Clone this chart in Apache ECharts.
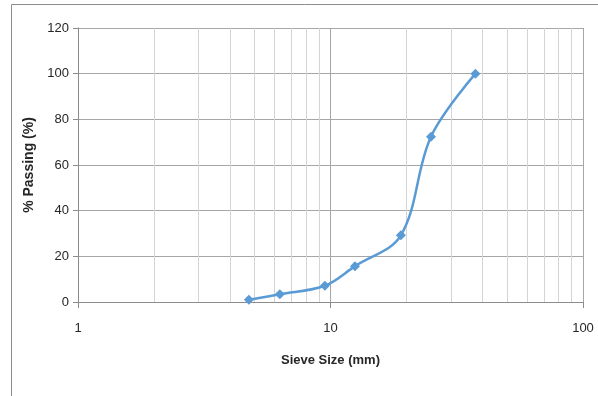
<!DOCTYPE html>
<html><head><meta charset="utf-8">
<script src="https://cdn.jsdelivr.net/npm/echarts@6/dist/echarts.min.js"></script>
<style>html,body{margin:0;padding:0;background:#fff}#c{width:598px;height:396px}</style>
</head><body><div id="c"></div>
<script>
const sieveSizes = [4.75, 6.3, 9.5, 12.5, 19, 25, 37.5];
const passing = [1, 3.4, 7.1, 15.7, 29.2, 72.4, 100];
const minorGridValues = [2, 3, 4, 5, 6, 7, 8, 9, 20, 30, 40, 50, 60, 70, 80, 90];
const xTitle = 'Sieve Size (mm)';
const yTitle = '% Passing (%)';

const chart = echarts.init(document.getElementById('c'));
const font = 'Liberation Sans Narrow, Liberation Sans, sans-serif';
chart.setOption({
  animation: false,
  graphic: [{
    type: 'polyline', silent: true,
    shape: { points: [[11.5, 396], [11.5, 4.5], [598, 4.5]] },
    style: { stroke: '#8c8c8c', lineWidth: 1, fill: null }
  }],
  grid: { left: 78, right: 15, top: 28, bottom: 94 },
  xAxis: {
    type: 'log', logBase: 10, min: 1, max: 100,
    name: xTitle, nameLocation: 'middle', nameGap: 52,
    nameTextStyle: { fontFamily: font, fontWeight: 'bold', fontSize: 13, color: '#262626' },
    axisLine: { lineStyle: { color: '#8c8c8c' } },
    axisTick: { show: true, length: 6, lineStyle: { color: '#8c8c8c' } },
    axisLabel: { fontFamily: font, fontSize: 13, color: '#262626', margin: 20 },
    splitLine: { show: true, lineStyle: { color: '#a6a6a6', width: 1 } },
    minorTick: { show: false }, minorSplitLine: { show: false }
  },
  yAxis: {
    type: 'value', min: 0, max: 120, interval: 20,
    name: yTitle, nameLocation: 'middle', nameGap: 39, nameRotate: 90,
    nameTextStyle: { fontFamily: font, fontWeight: 'bold', fontSize: 14, color: '#262626' },
    axisLine: { show: true, lineStyle: { color: '#8c8c8c' } },
    axisTick: { show: true, length: 5, lineStyle: { color: '#8c8c8c' } },
    axisLabel: { fontFamily: font, fontSize: 13, color: '#262626', margin: 9 },
    splitLine: { show: true, lineStyle: { color: '#a6a6a6', width: 1 } }
  },
  series: [{
    type: 'line',
    data: sieveSizes.map((s, i) => [s, passing[i]]),
    smooth: 0.35,
    symbol: 'diamond', symbolSize: 10,
    itemStyle: { color: '#5b9bd5' },
    lineStyle: { color: '#5b9bd5', width: 2.5 },
    z: 5,
    markLine: {
      silent: true, symbol: 'none', animation: false,
      label: { show: false },
      lineStyle: { color: '#d4d4d4', width: 1, type: 'solid' },
      data: minorGridValues.map(v => ({ xAxis: v }))
    }
  }]
});
</script></body></html>
